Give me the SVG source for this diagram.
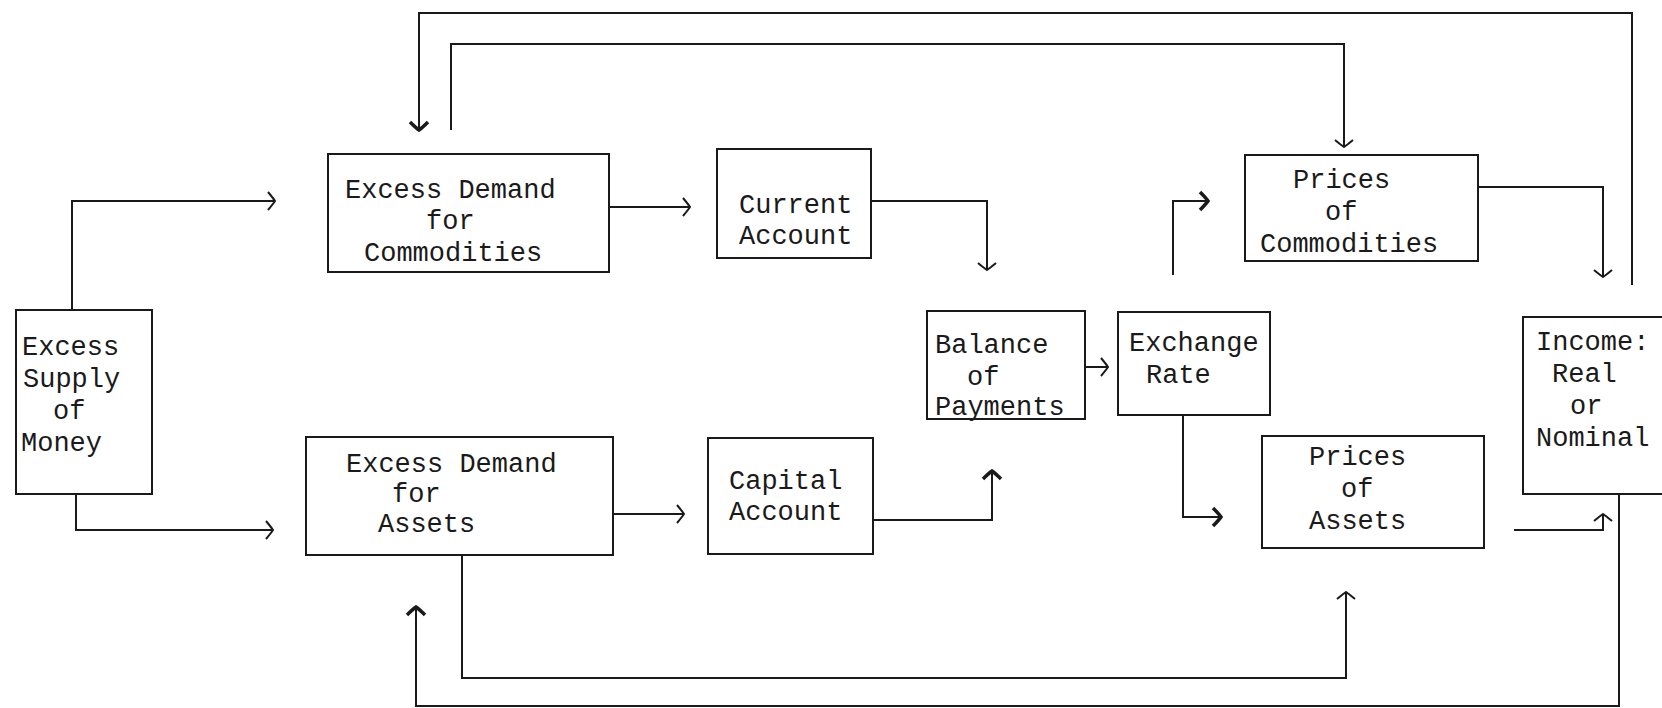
<svg xmlns="http://www.w3.org/2000/svg" width="1662" height="708" viewBox="0 0 1662 708">
<style>
  .box { fill: none; stroke: #1a1a1a; stroke-width: 2; }
  .lbl { font-family: "Liberation Mono", "Courier New", monospace; font-size: 27px; fill: #1a1a1a; }
  .ln { fill: none; stroke: #1a1a1a; stroke-width: 2; }
</style>
<defs>
  <marker id="arr" markerUnits="userSpaceOnUse" viewBox="-10 -11 12 22" refX="0" refY="0" markerWidth="12" markerHeight="22" orient="auto">
    <path d="M-7,-9 Q-2,-3 0,0 Q-2,3 -7,9" fill="none" stroke="#1a1a1a" stroke-width="2"/>
  </marker>
  <marker id="arrB" markerUnits="userSpaceOnUse" viewBox="-11 -11 13 22" refX="0" refY="0" markerWidth="13" markerHeight="22" orient="auto">
    <path d="M-8,-9 Q-2,-3 0,0 Q-2,3 -8,9" fill="none" stroke="#1a1a1a" stroke-width="3.5"/>
  </marker>
</defs>
<rect x="0" y="0" width="1662" height="708" fill="#ffffff"/>

<g id="connectors">
  <path class="ln" d="M72,310 V201 H275" marker-end="url(#arr)"/>
  <path class="ln" d="M76,494 V530 H273" marker-end="url(#arr)"/>
  <path class="ln" d="M609,207 H690" marker-end="url(#arr)"/>
  <path class="ln" d="M613,514 H684" marker-end="url(#arr)"/>
  <path class="ln" d="M871,201 H987 V270" marker-end="url(#arr)"/>
  <path class="ln" d="M873,520 H992 V471" marker-end="url(#arrB)"/>
  <path class="ln" d="M1085,367 H1108" marker-end="url(#arr)"/>
  <path class="ln" d="M1173,275 V201 H1208" marker-end="url(#arrB)"/>
  <path class="ln" d="M1183,414 V517 H1221" marker-end="url(#arrB)"/>
  <path class="ln" d="M1478,187 H1603 V277" marker-end="url(#arr)"/>
  <path class="ln" d="M1514,530 H1603 V514" marker-end="url(#arr)"/>
  <path class="ln" d="M451,130 V44 H1344 V147" marker-end="url(#arr)"/>
  <path class="ln" d="M1632,285 V13 H419 V130" marker-end="url(#arrB)"/>
  <path class="ln" d="M462,555 V678 H1346 V592" marker-end="url(#arr)"/>
  <path class="ln" d="M1619,494 V706 H416 V607" marker-end="url(#arrB)"/>
</g>

<g id="excess-supply-money">
  <rect class="box" x="16" y="310" width="136" height="184"/>
  <text class="lbl" x="22" y="355">Excess</text>
  <text class="lbl" x="23" y="387">Supply</text>
  <text class="lbl" x="53" y="419">of</text>
  <text class="lbl" x="21" y="451">Money</text>
</g>

<g id="excess-demand-commodities">
  <rect class="box" x="328" y="154" width="281" height="118"/>
  <text class="lbl" x="345" y="198">Excess Demand</text>
  <text class="lbl" x="426" y="229">for</text>
  <text class="lbl" x="364" y="261">Commodities</text>
</g>

<g id="current-account">
  <rect class="box" x="717" y="149" width="154" height="109"/>
  <text class="lbl" x="739" y="213">Current</text>
  <text class="lbl" x="739" y="244">Account</text>
</g>

<g id="excess-demand-assets">
  <rect class="box" x="306" y="437" width="307" height="118"/>
  <text class="lbl" x="346" y="472">Excess Demand</text>
  <text class="lbl" x="392" y="502">for</text>
  <text class="lbl" x="378" y="532">Assets</text>
</g>

<g id="capital-account">
  <rect class="box" x="708" y="438" width="165" height="116"/>
  <text class="lbl" x="729" y="489">Capital</text>
  <text class="lbl" x="729" y="520">Account</text>
</g>

<g id="balance-of-payments">
  <rect class="box" x="927" y="311" width="158" height="108"/>
  <text class="lbl" x="935" y="353">Balance</text>
  <text class="lbl" x="967" y="385">of</text>
  <text class="lbl" x="935" y="415">Payments</text>
</g>

<g id="exchange-rate">
  <rect class="box" x="1118" y="312" width="152" height="103"/>
  <text class="lbl" x="1129" y="351">Exchange</text>
  <text class="lbl" x="1146" y="383">Rate</text>
</g>

<g id="prices-commodities">
  <rect class="box" x="1245" y="155" width="233" height="106"/>
  <text class="lbl" x="1293" y="188">Prices</text>
  <text class="lbl" x="1325" y="220">of</text>
  <text class="lbl" x="1260" y="252">Commodities</text>
</g>

<g id="prices-assets">
  <rect class="box" x="1262" y="436" width="222" height="112"/>
  <text class="lbl" x="1309" y="465">Prices</text>
  <text class="lbl" x="1341" y="497">of</text>
  <text class="lbl" x="1309" y="529">Assets</text>
</g>

<g id="income">
  <rect class="box" x="1523" y="317" width="150" height="177"/>
  <text class="lbl" x="1536" y="350">Income:</text>
  <text class="lbl" x="1552" y="382">Real</text>
  <text class="lbl" x="1570" y="414">or</text>
  <text class="lbl" x="1536" y="446">Nominal</text>
</g>
</svg>
